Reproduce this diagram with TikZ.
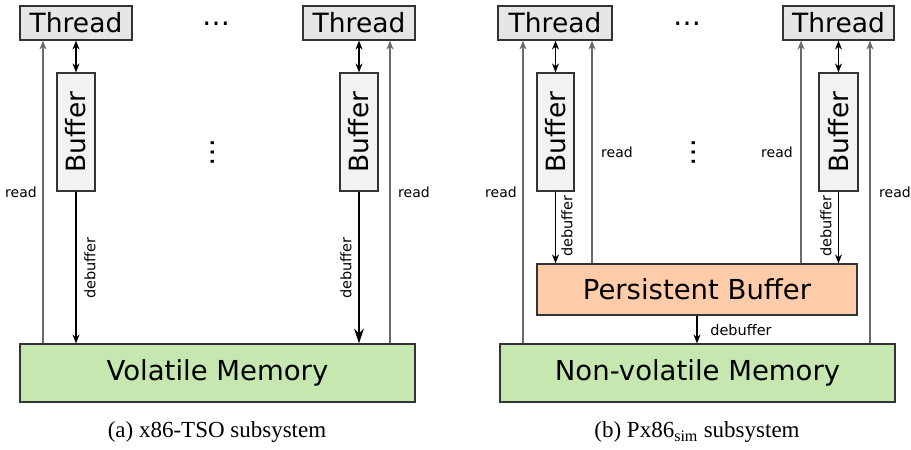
\documentclass[tikz,border=0pt]{standalone}
\usepackage{fontspec}
\newfontfamily\dejavu{DejaVu Sans}
\newfontfamily\capfont{Liberation Serif}
\usetikzlibrary{arrows.meta}
\definecolor{threadfill}{HTML}{E6E6E6}
\definecolor{bufferfill}{HTML}{F2F2F2}
\definecolor{memfill}{HTML}{C6E8B0}
\definecolor{pbfill}{HTML}{FFCCAA}
\definecolor{boxline}{HTML}{333333}
\definecolor{readline}{HTML}{6A6A6A}
\tikzset{
  threadbox/.style={draw=boxline, fill=threadfill, line width=1.2pt, minimum width=112pt, minimum height=34pt, inner sep=0pt, font=\dejavu\fontsize{26.5}{26.5}\selectfont},
  bufbox/.style={draw=boxline, fill=bufferfill, line width=1.2pt, minimum width=118pt, minimum height=38pt, inner sep=0pt, rotate=90, font=\dejavu\fontsize{26.5}{26.5}\selectfont},
  membox/.style={draw=boxline, fill=memfill, line width=1.2pt, minimum width=395pt, minimum height=58pt, inner sep=0pt, font=\dejavu\fontsize{27.5}{27.5}\selectfont},
  pbbox/.style={draw=boxline, fill=pbfill, line width=1.2pt, minimum width=320pt, minimum height=51pt, inner sep=0pt, font=\dejavu\fontsize{27.5}{27.5}\selectfont},
  lbl/.style={inner sep=0pt, font=\dejavu\fontsize{14}{14}\selectfont},
  rlbl/.style={inner sep=0pt, rotate=90, font=\dejavu\fontsize{14.5}{14.5}\selectfont},
  dotsnode/.style={inner sep=0pt, font=\dejavu\fontsize{28}{28}\selectfont},
  readarrow/.style={draw=readline, line width=1.1pt, -{Stealth[length=9pt,width=7pt]}},
  dbarrow/.style={draw=black, line width=1.1pt, -{Stealth[length=9pt,width=7pt]}},
  bigarrow/.style={draw=black, line width=1.3pt, -{Stealth[length=15pt,width=10pt]}},
  twoway/.style={draw=black, line width=1.1pt, {Stealth[length=9pt,width=7pt]}-{Stealth[length=9pt,width=7pt]}},
  captext/.style={inner sep=0pt, font=\capfont\fontsize{23}{23}\selectfont}
}
\begin{document}
\begin{tikzpicture}[x=1pt,y=-1pt]
\useasboundingbox (0,0) rectangle (911,450);
% ---------- left panel ----------
\node[threadbox] (t1) at (76,23) {Thread};
\node[threadbox] (t2) at (359,23) {Thread};
\node[bufbox] (b1) at (76,132) {Buffer};
\node[bufbox] (b2) at (359,132) {Buffer};
\node[membox] (vm) at (217.5,373) {Volatile Memory};
\node[dotsnode] (hd1) at (216,24) {…};
\node[dotsnode, rotate=90] (vd1) at (213,152) {…};
\coordinate (ra) at (43,0);
\coordinate (rb) at (390,0);
\draw[readarrow] (vm.north -| ra) -- (t1.south -| ra);
\draw[readarrow] (vm.north -| rb) -- (t2.south -| rb);
\node[lbl] (lr1) at (21,192) {read};
\node[lbl] (lr2) at (414,192) {read};
\draw[twoway] (t1.south) -- (b1.east);
\draw[twoway] (t2.south) -- (b2.east);
\draw[dbarrow] (b1.west) -- (vm.north -| b1.west);
\draw[bigarrow] (b2.west) -- (vm.north -| b2.west);
\node[rlbl] (ld1) at (90,268) {debuffer};
\node[rlbl] (ld2) at (346,268) {debuffer};
\node[captext] (ca) at (217,432) {(a) x86-TSO subsystem};
% ---------- right panel ----------
\node[threadbox, minimum width=114pt] (t3) at (555,23) {Thread};
\node[threadbox, minimum width=111pt] (t4) at (838.5,23) {Thread};
\node[bufbox, minimum height=37pt] (b3) at (555.5,132) {Buffer};
\node[bufbox, minimum height=39pt] (b4) at (838.5,132) {Buffer};
\node[pbbox] (pb) at (697,289.5) {Persistent Buffer};
\node[membox] (nvm) at (697.5,373) {Non-volatile Memory};
\node[dotsnode] (hd2) at (687,24) {…};
\node[dotsnode, rotate=90] (vd2) at (694,152) {…};
\coordinate (rc) at (523,0);
\coordinate (rd) at (592,0);
\coordinate (re) at (801,0);
\coordinate (rf) at (870,0);
\draw[readarrow] (nvm.north -| rc) -- (t3.south -| rc);
\draw[readarrow] (pb.north -| rd) -- (t3.south -| rd);
\draw[readarrow] (pb.north -| re) -- (t4.south -| re);
\draw[readarrow] (nvm.north -| rf) -- (t4.south -| rf);
\node[lbl] (lr3) at (501,192) {read};
\node[lbl] (lr4) at (617,152) {read};
\node[lbl] (lr5) at (777,152) {read};
\node[lbl] (lr6) at (895,192) {read};
\draw[twoway] (t3.south -| b3.center) -- (b3.east);
\draw[twoway] (t4.south -| b4.center) -- (b4.east);
\draw[dbarrow] (b3.west) -- (pb.north -| b3.west);
\draw[dbarrow] (b4.west) -- (pb.north -| b4.west);
\node[rlbl] (ld3) at (567,226) {debuffer};
\node[rlbl] (ld4) at (826,226) {debuffer};
\draw[dbarrow] (pb.south) -- (nvm.north -| pb.south);
\node[lbl, font=\dejavu\fontsize{14.5}{14.5}\selectfont] (ld5) at (741,330) {debuffer};
\node[captext] (cb) at (697,432) {(b) Px86\textsubscript{sim} subsystem};
\end{tikzpicture}
\end{document}
